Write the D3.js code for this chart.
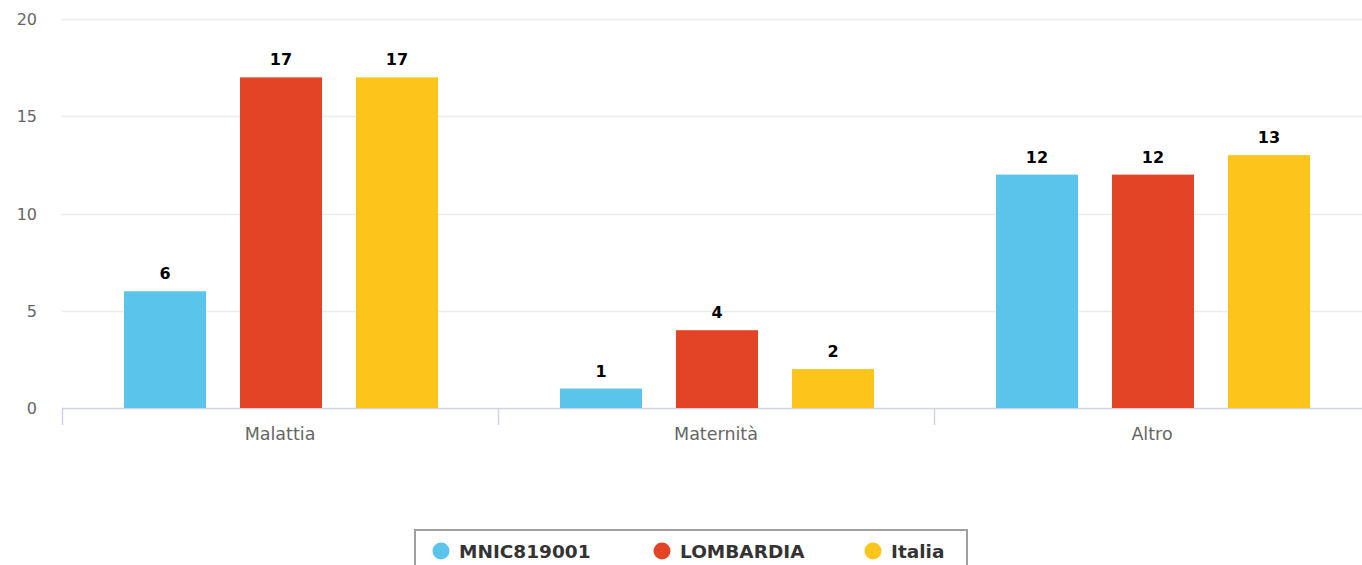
<!DOCTYPE html>
<html lang="it">
<head>
<meta charset="UTF-8">
<script src="https://d3js.org/d3.v7.min.js"></script>
<style>
  body { margin: 0; background: #fff; overflow: hidden; }
  svg { display: block; }
</style>
</head>
<body>
<div class="canvas"></div>
<script>
const categories = ['Malattia', 'Maternità', 'Altro']
const seriesNames = ['MNIC819001', 'LOMBARDIA', 'Italia']
const seriesColors = ['#5bc4ea', '#e34426', '#fdc41b']
const valuesMNIC = [6, 1, 12]
const valuesLombardia = [17, 4, 12]
const valuesItalia = [17, 2, 13]
const yTicks = [0, 5, 10, 15, 20]

const allValues = [valuesMNIC, valuesLombardia, valuesItalia]

const W = 1362, H = 565
const [ml, mt, plotRight, plotBottom] = [62, 19, 1370, 408]
const font = 'Verdana, "DejaVu Sans", sans-serif'

const svg = d3.select('.canvas').append('svg')
  .attr('width', W).attr('height', H)

const x = d3.scaleBand().domain(categories).range([ml, plotRight])
const xInner = d3.scaleBand().domain(seriesNames)
  .range([62, 376]).paddingInner(0.293)
const y = d3.scaleLinear().domain([0, 20]).range([plotBottom, mt])

// grid lines
svg.append('g').selectAll('line').data(yTicks.filter(d => d > 0)).enter()
  .append('line')
  .attr('x1', ml).attr('x2', W)
  .attr('y1', d => Math.round(y(d)) + 0.5).attr('y2', d => Math.round(y(d)) + 0.5)
  .attr('stroke', '#ebebeb').attr('stroke-width', 1.5)

// y labels
svg.append('g').selectAll('text').data(yTicks).enter()
  .append('text')
  .attr('x', 37).attr('y', d => y(d) + 6)
  .attr('text-anchor', 'end')
  .style('font-family', font)
  .style('font-size', '16px').attr('fill', '#666')
  .text(d => d)

// x axis
svg.append('line')
  .attr('x1', ml).attr('x2', W)
  .attr('y1', plotBottom + 0.5).attr('y2', plotBottom + 0.5)
  .attr('stroke', '#d0d4e0').attr('stroke-width', 1.5)

svg.append('g').selectAll('line').data(categories).enter()
  .append('line')
  .attr('x1', d => x(d) + 0.5).attr('x2', d => x(d) + 0.5)
  .attr('y1', plotBottom).attr('y2', plotBottom + 17)
  .attr('stroke', '#d0d4e0').attr('stroke-width', 1.5)

svg.append('g').selectAll('text').data(categories).enter()
  .append('text')
  .attr('x', d => x(d) + x.bandwidth() / 2).attr('y', 440)
  .attr('text-anchor', 'middle')
  .style('font-family', font)
  .style('font-size', '17.5px').attr('fill', '#666')
  .text(d => d)

// bars
const groups = svg.append('g').selectAll('g').data(categories).enter()
  .append('g')
  .attr('transform', d => `translate(${x(d)},0)`)

groups.each(function (cat, ci) {
  const g = d3.select(this)
  seriesNames.forEach((s, si) => {
    const v = allValues[si][ci]
    g.append('rect')
      .attr('x', xInner(s)).attr('y', y(v))
      .attr('width', xInner.bandwidth()).attr('height', plotBottom - y(v))
      .attr('fill', seriesColors[si])
    g.append('text')
      .attr('x', xInner(s) + xInner.bandwidth() / 2).attr('y', y(v) - 12)
      .attr('text-anchor', 'middle')
      .style('font-family', font)
      .style('font-size', '16px').style('font-weight', 'bold')
      .attr('fill', '#000')
      .text(v)
  })
})

// legend
const legend = svg.append('g')
legend.append('rect')
  .attr('x', 415).attr('y', 530).attr('width', 552).attr('height', 44)
  .attr('fill', '#fff').attr('stroke', '#a0a0a0').attr('stroke-width', 2)

const legendX = [441, 662, 873]
seriesNames.forEach((s, i) => {
  legend.append('circle')
    .attr('cx', legendX[i]).attr('cy', 551).attr('r', 8.5)
    .attr('fill', seriesColors[i])
  legend.append('text')
    .attr('x', legendX[i] + 18).attr('y', 558)
    .style('font-family', font)
    .style('font-size', '18.5px').style('font-weight', 'bold')
    .attr('fill', '#333')
    .text(s)
})
</script>
</body>
</html>
